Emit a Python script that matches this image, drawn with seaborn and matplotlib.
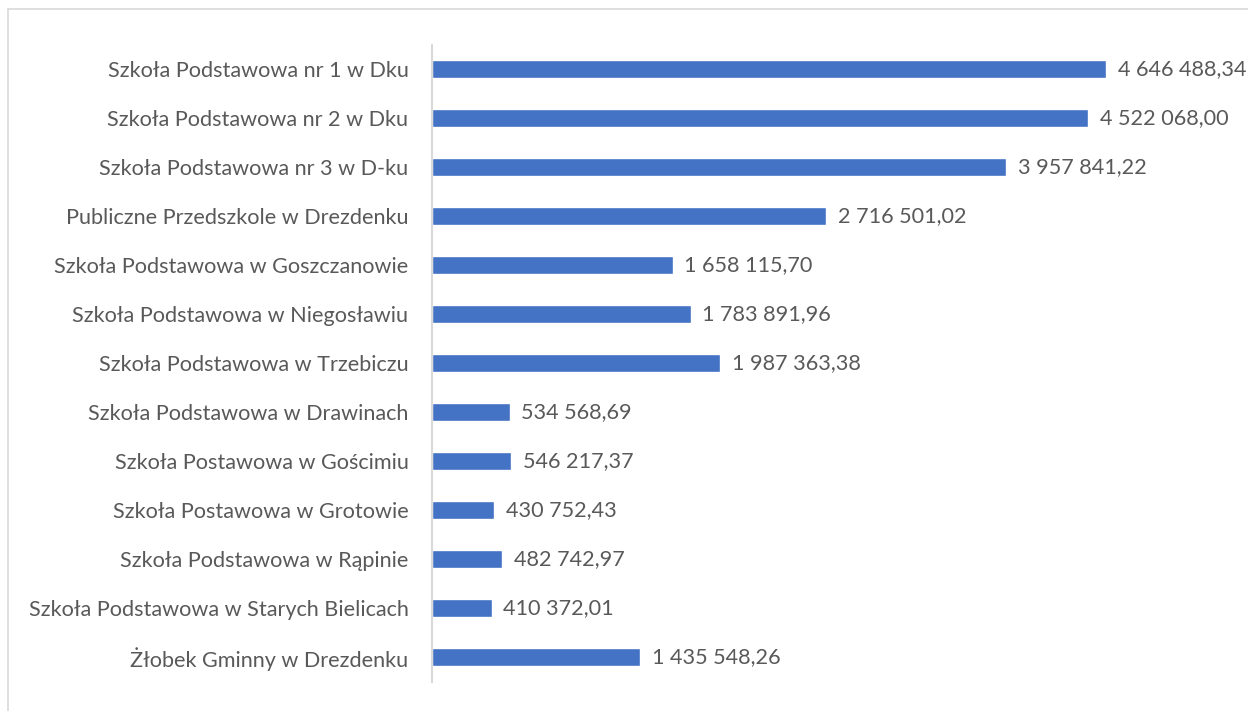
import pandas as pd
import seaborn as sns
import matplotlib.pyplot as plt
from matplotlib.lines import Line2D

schools = [
    "Szkoła Podstawowa nr 1 w Dku",
    "Szkoła Podstawowa nr 2 w Dku",
    "Szkoła Podstawowa nr 3 w D-ku",
    "Publiczne Przedszkole w Drezdenku",
    "Szkoła Podstawowa w Goszczanowie",
    "Szkoła Podstawowa w Niegosławiu",
    "Szkoła Podstawowa w Trzebiczu",
    "Szkoła Podstawowa w Drawinach",
    "Szkoła Postawowa w Gościmiu",
    "Szkoła Postawowa w Grotowie",
    "Szkoła Podstawowa w Rąpinie",
    "Szkoła Podstawowa w Starych Bielicach",
    "Żłobek Gminny w Drezdenku",
]
amounts = [4646488.34, 4522068.00, 3957841.22, 2716501.02, 1658115.70,
           1783891.96, 1987363.38, 534568.69, 546217.37, 430752.43,
           482742.97, 410372.01, 1435548.26]

def fmt(v):
    s = f"{v:,.2f}"
    return s.replace(",", " ").replace(".", ",")

df = pd.DataFrame({"school": schools, "amount": amounts})

sns.set_style("white")
plt.rcParams['font.family'] = ['Lato', 'DejaVu Sans']
text_col = "#595959"
fs = 15.6

fig = plt.figure(figsize=(12.48, 7.11), dpi=100)
ax = fig.add_axes([432 / 1248, 1 - 681.5 / 711, (1240 - 432) / 1248, 637 / 711])

sns.barplot(data=df, y="school", x="amount", orient="h", color="#4472C4",
            saturation=1, width=0.37, ax=ax)

for i, v in enumerate(amounts):
    ax.text(v + 80000, i, fmt(v), va="center", ha="left", fontsize=fs, color=text_col)

ax.set_xlim(0, 5.57e6)
ax.set_xlabel("")
ax.set_ylabel("")
ax.set_xticks([])
ax.tick_params(axis="y", length=0, pad=17, labelsize=fs, labelcolor=text_col)
for side in ["top", "right", "bottom"]:
    ax.spines[side].set_visible(False)
ax.spines["left"].set_color("#d9d9d9")
ax.spines["left"].set_linewidth(1.5)

# outer chart frame (only top and left visible in the reference)
fig.add_artist(Line2D([8 / 1248, 1], [1 - 9 / 711, 1 - 9 / 711], color="#d9d9d9", lw=1.2))
fig.add_artist(Line2D([8 / 1248, 8 / 1248], [0, 1 - 9 / 711], color="#d9d9d9", lw=1.2))

fig.savefig("out.png", dpi=100)
